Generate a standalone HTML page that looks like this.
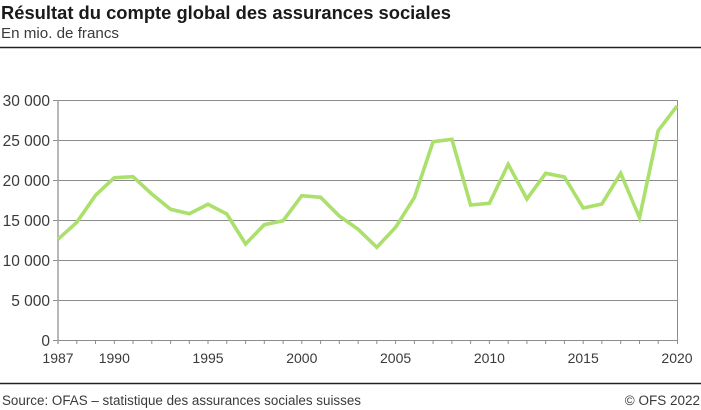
<!DOCTYPE html>
<html><head><meta charset="utf-8"><style>
html,body{margin:0;padding:0;background:#fff;}
svg{display:block;}
text{font-family:"Liberation Sans",sans-serif;fill:#3a3a3a;}
</style></head><body>
<svg width="701" height="410" viewBox="0 0 701 410" xmlns="http://www.w3.org/2000/svg">
<text x="1" y="19" font-size="18" font-weight="bold" style="fill:#1a1a1a" textLength="450" lengthAdjust="spacingAndGlyphs">Résultat du compte global des assurances sociales</text>
<text x="1" y="38" font-size="15" textLength="118" lengthAdjust="spacingAndGlyphs">En mio. de francs</text>
<line x1="0" y1="47.5" x2="701" y2="47.5" stroke="#222" stroke-width="1.5"/>
<g stroke="#8c8c8c" stroke-width="1">
<line x1="53" y1="100.5" x2="677" y2="100.5"/>
<line x1="53" y1="140.5" x2="677" y2="140.5"/>
<line x1="53" y1="180.5" x2="677" y2="180.5"/>
<line x1="53" y1="220.5" x2="677" y2="220.5"/>
<line x1="53" y1="260.5" x2="677" y2="260.5"/>
<line x1="53" y1="300.5" x2="677" y2="300.5"/>
<line x1="53" y1="340.5" x2="677" y2="340.5"/>
<line x1="677.5" y1="100" x2="677.5" y2="344"/>
</g>
<line x1="58" y1="100" x2="58" y2="344" stroke="#a0a0a0" stroke-width="1.5"/>
<g font-size="15.5" text-anchor="end">
<text x="50" y="106">30 000</text>
<text x="50" y="146">25 000</text>
<text x="50" y="186">20 000</text>
<text x="50" y="226">15 000</text>
<text x="50" y="266">10 000</text>
<text x="50" y="306">5 000</text>
<text x="50" y="346">0</text>
</g>
<g font-size="14" text-anchor="middle">
<text x="58" y="363">1987</text>
<text x="114.3" y="363">1990</text>
<text x="208" y="363">1995</text>
<text x="301.8" y="363">2000</text>
<text x="395.6" y="363">2005</text>
<text x="489.4" y="363">2010</text>
<text x="583.2" y="363">2015</text>
<text x="677" y="363">2020</text>
</g>
<polyline fill="none" stroke="#abe06c" stroke-width="3.6" stroke-linejoin="miter" points="58,239.3 76.8,222.3 95.5,195.3 114.3,177.7 133,176.7 151.8,194 170.6,209.3 189.3,213.7 208,204.3 226.8,214 245.6,244 264.3,224.7 283.1,220.7 301.8,195.7 320.6,197.3 339.3,216 358.1,229.3 376.8,247.3 395.6,227.3 414.4,197.5 433.1,141.7 451.9,139.3 470.6,205 489.4,203.3 508.2,164.3 526.9,199 545.7,173.3 564.4,177 583.2,208 601.9,204 620.7,173.3 639.5,217.7 658.2,130.7 677,106"/>
<line x1="0" y1="383.5" x2="701" y2="383.5" stroke="#222" stroke-width="1.5"/>
<text x="2" y="405" font-size="13.5" textLength="359" lengthAdjust="spacingAndGlyphs">Source: OFAS – statistique des assurances sociales suisses</text>
<text x="700" y="405" font-size="13.5" text-anchor="end">© OFS 2022</text>
<g stroke="#8c8c8c" stroke-width="1">
<line x1="76.8" y1="340" x2="76.8" y2="344"/><line x1="95.5" y1="340" x2="95.5" y2="344"/><line x1="114.3" y1="340" x2="114.3" y2="344"/><line x1="133" y1="340" x2="133" y2="344"/><line x1="151.8" y1="340" x2="151.8" y2="344"/><line x1="170.6" y1="340" x2="170.6" y2="344"/><line x1="189.3" y1="340" x2="189.3" y2="344"/><line x1="208" y1="340" x2="208" y2="344"/><line x1="226.8" y1="340" x2="226.8" y2="344"/><line x1="245.6" y1="340" x2="245.6" y2="344"/><line x1="264.3" y1="340" x2="264.3" y2="344"/><line x1="283.1" y1="340" x2="283.1" y2="344"/><line x1="301.8" y1="340" x2="301.8" y2="344"/><line x1="320.6" y1="340" x2="320.6" y2="344"/><line x1="339.3" y1="340" x2="339.3" y2="344"/><line x1="358.1" y1="340" x2="358.1" y2="344"/><line x1="376.8" y1="340" x2="376.8" y2="344"/><line x1="395.6" y1="340" x2="395.6" y2="344"/><line x1="414.4" y1="340" x2="414.4" y2="344"/><line x1="433.1" y1="340" x2="433.1" y2="344"/><line x1="451.9" y1="340" x2="451.9" y2="344"/><line x1="470.6" y1="340" x2="470.6" y2="344"/><line x1="489.4" y1="340" x2="489.4" y2="344"/><line x1="508.2" y1="340" x2="508.2" y2="344"/><line x1="526.9" y1="340" x2="526.9" y2="344"/><line x1="545.7" y1="340" x2="545.7" y2="344"/><line x1="564.4" y1="340" x2="564.4" y2="344"/><line x1="583.2" y1="340" x2="583.2" y2="344"/><line x1="601.9" y1="340" x2="601.9" y2="344"/><line x1="620.7" y1="340" x2="620.7" y2="344"/><line x1="639.5" y1="340" x2="639.5" y2="344"/><line x1="658.2" y1="340" x2="658.2" y2="344"/>
</g>
</svg>
</body></html>
